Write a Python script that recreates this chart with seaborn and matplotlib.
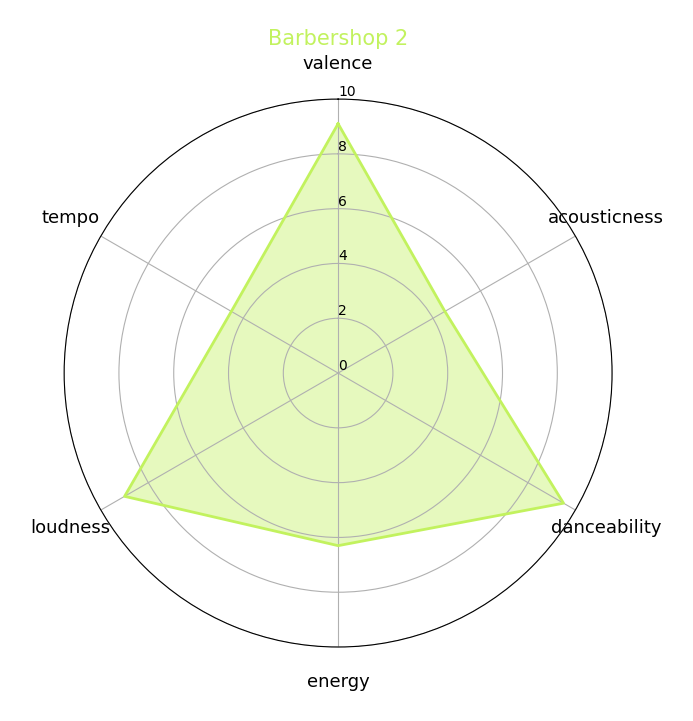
import numpy as np
import pandas as pd
import matplotlib
matplotlib.use("Agg")
import matplotlib.pyplot as plt
import seaborn as sns

categories = ["valence", "acousticness", "danceability", "energy", "loudness", "tempo"]
values = [9.1, 4.5, 9.5, 6.3, 9.0, 4.5]
title = "Barbershop 2"
color = "#c2f25e"

n = len(categories)
angles = np.linspace(0, 2 * np.pi, n, endpoint=False)
df = pd.DataFrame({
    "angle": np.append(angles, angles[0]),
    "value": values + [values[0]],
})

fig = plt.figure(figsize=(6.93, 7.21), dpi=100)
ax = fig.add_axes([0.0924, 0.1026, 0.791, 0.760], projection="polar")
ax.set_theta_offset(np.pi / 2)
ax.set_theta_direction(-1)

sns.lineplot(data=df, x="angle", y="value", sort=False, color=color, linewidth=2, ax=ax, estimator=None)
ax.fill(df["angle"], df["value"], color=color, alpha=0.4, linewidth=0)

ax.set_ylim(0, 10)
ax.set_yticks([0, 2, 4, 6, 8, 10])
ax.set_yticklabels(["0", "2", "4", "6", "8", "10"], fontsize=10)
ax.set_rlabel_position(0)
ax.set_xticks(angles)
ax.set_xticklabels(categories, fontsize=13)
ax.tick_params(axis="x", pad=15)
ax.set_xlabel("")
ax.set_ylabel("")
ax.grid(True, color="#b0b0b0", linewidth=0.8)
ax.set_title(title, color=color, fontsize=15, pad=39)

fig.savefig("out.png", dpi=100)
